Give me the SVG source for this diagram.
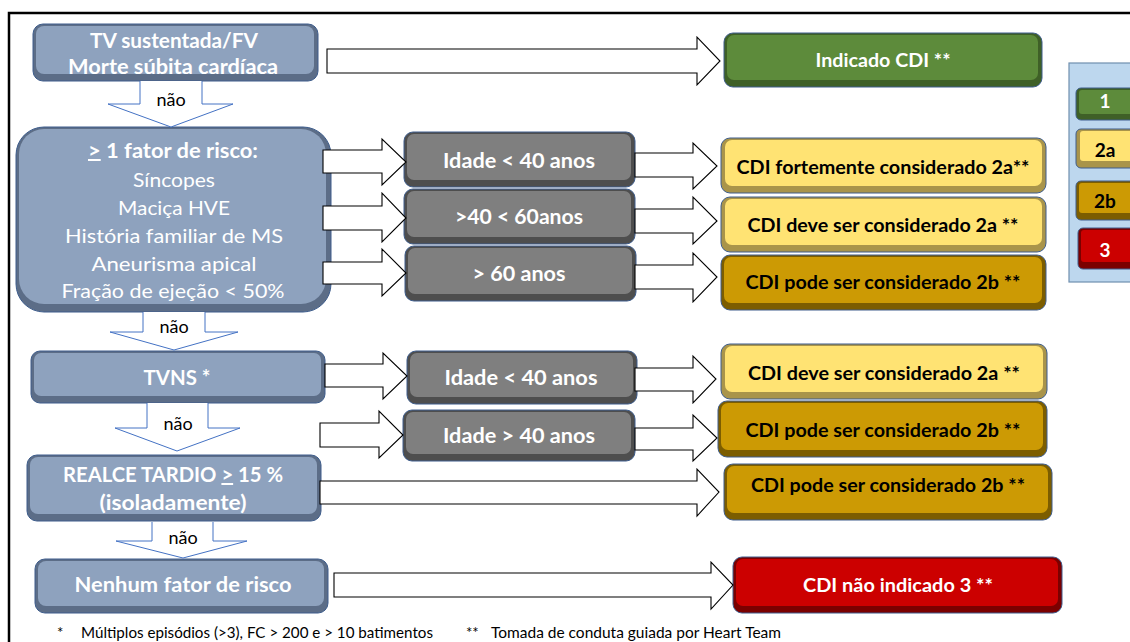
<svg xmlns="http://www.w3.org/2000/svg" width="1130" height="642" viewBox="0 0 1130 642">
<style>
.rim{stroke:#3E5D8C;stroke-width:1}
.rb{fill:#5C6D87}.fb{fill:#8EA2BE}
.rg{fill:#4E4E4E}.fg{fill:#7F7F7F}
.rgr{fill:#3F6027}.fgr{fill:#5D8B3B}
.ry{fill:#A9944A}.fy{fill:#FFE373}
.ro{fill:#7C5D00}.fo{fill:#CC9A04}
.rr{fill:#7B0000}.fr{fill:#CC0000}
text{font-family:Lato,"Open Sans","Liberation Sans",sans-serif;text-anchor:middle}
.bw{font-weight:bold;fill:#FFFFFF}
.bk{font-weight:bold;fill:#000000}
.rw{fill:#FFFFFF}
.nao{fill:#000000;font-size:18px}
.foot{fill:#000000;font-size:15px;text-anchor:start}
.ha{fill:#FFFFFF;stroke:#000000;stroke-width:1.1;stroke-linejoin:miter}
.da{fill:#FFFFFF;stroke:#4472C4;stroke-width:1}
</style>
<rect x="9" y="13" width="1140" height="640" fill="none" stroke="#000000" stroke-width="2.5"/>

<g id="legend">
<rect x="1069" y="63" width="80" height="219" fill="#BDD7EE" stroke="#6F8FAF" stroke-width="1.2"/>
<g id="leg1"><rect class="rim rgr" x="1076" y="88" width="62" height="32" rx="5"/><rect class="fgr" x="1079" y="90" width="56" height="24" rx="3"/><text class="bw" x="1105" y="108" font-size="19">1</text></g>
<g id="leg2a"><rect class="rim ry" x="1076" y="129" width="62" height="39" rx="5"/><rect class="fy" x="1080" y="131" width="54" height="30" rx="3"/><text class="bk" x="1105" y="157" font-size="19">2a</text></g>
<g id="leg2b"><rect class="rim ro" x="1076" y="181" width="62" height="39" rx="5"/><rect class="fo" x="1079" y="183" width="56" height="30" rx="3"/><text class="bk" x="1105" y="208" font-size="19">2b</text></g>
<g id="leg3"><rect class="rim rr" x="1078" y="228" width="62" height="41" rx="5"/><rect class="fr" x="1081" y="230" width="56" height="32" rx="3"/><text class="bw" x="1105" y="257" font-size="19">3</text></g>
</g>

<g id="n1"><rect class="rim rb" x="33" y="24" width="285" height="57" rx="10"/><rect class="fb" x="36" y="26" width="278" height="48" rx="8"/>
<text class="bw" x="174" y="48" font-size="20" textLength="168" lengthAdjust="spacingAndGlyphs">TV sustentada/FV</text><text class="bw" x="173" y="74" font-size="20" textLength="210" lengthAdjust="spacingAndGlyphs">Morte súbita cardíaca</text></g>

<g id="n2"><rect class="rim rb" x="16" y="127" width="315" height="185" rx="28"/><rect class="fb" x="19" y="129" width="307" height="175" rx="25"/>
<text class="bw" x="173" y="158" font-size="20" textLength="170" lengthAdjust="spacingAndGlyphs"><tspan text-decoration="underline">&gt;</tspan> 1 fator de risco:</text>
<text class="rw" x="174" y="187" font-size="20" textLength="82" lengthAdjust="spacingAndGlyphs">Síncopes</text>
<text class="rw" x="174" y="215" font-size="20" textLength="112" lengthAdjust="spacingAndGlyphs">Maciça HVE</text>
<text class="rw" x="174" y="243" font-size="20" textLength="218" lengthAdjust="spacingAndGlyphs">História familiar de MS</text>
<text class="rw" x="174" y="271" font-size="20" textLength="165" lengthAdjust="spacingAndGlyphs">Aneurisma apical</text>
<text class="rw" x="173" y="298" font-size="20" textLength="223" lengthAdjust="spacingAndGlyphs">Fração de ejeção &lt; 50%</text></g>

<g id="n3"><rect class="rim rb" x="31" y="351" width="294" height="52" rx="9"/><rect class="fb" x="34" y="353" width="287" height="43" rx="7"/>
<text class="bw" x="177" y="385" font-size="20" textLength="67" lengthAdjust="spacingAndGlyphs">TVNS *</text></g>

<g id="n4"><rect class="rim rb" x="27" y="455" width="294" height="66" rx="10"/><rect class="fb" x="30" y="457" width="287" height="57" rx="8"/>
<text class="bw" x="173" y="482" font-size="20" textLength="220" lengthAdjust="spacingAndGlyphs">REALCE TARDIO <tspan text-decoration="underline">&gt;</tspan> 15 %</text><text class="bw" x="173" y="510" font-size="20" textLength="147" lengthAdjust="spacingAndGlyphs">(isoladamente)</text></g>

<g id="n5"><rect class="rim rb" x="35" y="559" width="293" height="54" rx="10"/><rect class="fb" x="38" y="561" width="286" height="45" rx="8"/>
<text class="bw" x="183" y="592" font-size="20" textLength="217" lengthAdjust="spacingAndGlyphs">Nenhum fator de risco</text></g>

<g id="a1"><rect class="rim rg" x="404" y="132" width="231" height="55" rx="9"/><rect class="fg" x="407" y="134" width="224" height="46" rx="7"/><text class="bw" x="519" y="168" font-size="20" textLength="152" lengthAdjust="spacingAndGlyphs">Idade &lt; 40 anos</text></g>
<g id="a2"><rect class="rim rg" x="404" y="189" width="231" height="55" rx="9"/><rect class="fg" x="407" y="191" width="224" height="46" rx="7"/><text class="bw" x="519" y="224" font-size="20" textLength="128" lengthAdjust="spacingAndGlyphs">&gt;40 &lt; 60anos</text></g>
<g id="a3"><rect class="rim rg" x="405" y="246" width="231" height="55" rx="9"/><rect class="fg" x="408" y="248" width="224" height="46" rx="7"/><text class="bw" x="519" y="281" font-size="20" textLength="93" lengthAdjust="spacingAndGlyphs">&gt; 60 anos</text></g>
<g id="a4"><rect class="rim rg" x="407" y="351" width="230" height="53" rx="9"/><rect class="fg" x="410" y="353" width="223" height="44" rx="7"/><text class="bw" x="521" y="385" font-size="20" textLength="153" lengthAdjust="spacingAndGlyphs">Idade &lt; 40 anos</text></g>
<g id="a5"><rect class="rim rg" x="403" y="410" width="232" height="51" rx="9"/><rect class="fg" x="406" y="412" width="225" height="42" rx="7"/><text class="bw" x="519" y="443" font-size="20" textLength="152" lengthAdjust="spacingAndGlyphs">Idade &gt; 40 anos</text></g>

<g id="g1"><rect class="rim rgr" x="724" y="33" width="318" height="54" rx="9"/><rect class="fgr" x="727" y="35" width="311" height="45" rx="7"/><text class="bw" x="883" y="67" font-size="18" textLength="135" lengthAdjust="spacingAndGlyphs">Indicado CDI **</text></g>
<g id="y1"><rect class="rim ry" x="721" y="138" width="325" height="55" rx="9"/><rect class="fy" x="725" y="140" width="317" height="46" rx="7"/><text class="bk" x="883" y="174" font-size="18" textLength="293" lengthAdjust="spacingAndGlyphs">CDI fortemente considerado 2a**</text></g>
<g id="y2"><rect class="rim ry" x="721" y="197" width="325" height="55" rx="9"/><rect class="fy" x="725" y="199" width="317" height="46" rx="7"/><text class="bk" x="883" y="232" font-size="18" textLength="271" lengthAdjust="spacingAndGlyphs">CDI deve ser considerado 2a **</text></g>
<g id="y3"><rect class="rim ro" x="721" y="255" width="325" height="55" rx="9"/><rect class="fo" x="724" y="257" width="318" height="46" rx="7"/><text class="bk" x="883" y="289" font-size="18" textLength="275" lengthAdjust="spacingAndGlyphs">CDI pode ser considerado 2b **</text></g>
<g id="y4"><rect class="rim ry" x="721" y="344" width="326" height="55" rx="9"/><rect class="fy" x="725" y="346" width="318" height="46" rx="7"/><text class="bk" x="884" y="380" font-size="18" textLength="272" lengthAdjust="spacingAndGlyphs">CDI deve ser considerado 2a **</text></g>
<g id="y5"><rect class="rim ro" x="718" y="401" width="329" height="56" rx="9"/><rect class="fo" x="721" y="403" width="322" height="47" rx="7"/><text class="bk" x="883" y="437" font-size="18" textLength="275" lengthAdjust="spacingAndGlyphs">CDI pode ser considerado 2b **</text></g>
<g id="y6"><rect class="rim ro" x="724" y="464" width="328" height="56" rx="9"/><rect class="fo" x="727" y="466" width="321" height="47" rx="7"/><text class="bk" x="888" y="492" font-size="18" textLength="274" lengthAdjust="spacingAndGlyphs">CDI pode ser considerado 2b **</text></g>
<g id="r1"><rect class="rim rr" x="733" y="557" width="329" height="56" rx="9"/><rect class="fr" x="736" y="559" width="322" height="47" rx="7"/><text class="bw" x="898" y="592" font-size="18" textLength="190" lengthAdjust="spacingAndGlyphs">CDI não indicado 3 **</text></g>

<g id="connectors">
<path class="ha" d="M327 49H697V37L720 61L697 85V73H327Z"/>
<path class="ha" d="M323 150H382V139L406 162L382 185V173H323Z"/>
<path class="ha" d="M323 206H382V193L406 218L382 242V230H323Z"/>
<path class="ha" d="M323 262H382V249L406 273L382 296V284H323Z"/>
<path class="ha" d="M635 153H693V143L717 166L693 189V177H635Z"/>
<path class="ha" d="M635 209H693V197L717 221L693 244V233H635Z"/>
<path class="ha" d="M635 265H693V253L717 277L693 302V289H635Z"/>
<path class="ha" d="M325 364H383V353L407 376L383 399V387H325Z"/>
<path class="ha" d="M320 423H379V411L403 435L379 458V447H320Z"/>
<path class="ha" d="M635 368H693V356L716 379L693 403V391H635Z"/>
<path class="ha" d="M635 428H693V415L717 438L693 461V450H635Z"/>
<path class="ha" d="M320 481H697V469L719 492L697 516V504H320Z"/>
<path class="ha" d="M334 573H711V562L733 585L711 609V597H334Z"/>
<path class="da" d="M140 81V104H108L171 127L233 104H202V81"/>
<path class="da" d="M143 312V332H110L174 350L238 332H205V312"/>
<path class="da" d="M147 403V428H115L177 451L240 428H208V403"/>
<path class="da" d="M152 522V541H116L183 558L247 541H213V522"/>
<text class="nao" x="171" y="106">não</text>
<text class="nao" x="174" y="333">não</text>
<text class="nao" x="178" y="430">não</text>
<text class="nao" x="183" y="544">não</text>
</g>

<g id="footnotes">
<text class="foot" x="57" y="638">*</text>
<text class="foot" x="81" y="638" textLength="352" lengthAdjust="spacingAndGlyphs">Múltiplos episódios (&gt;3), FC &gt; 200 e &gt; 10 batimentos</text>
<text class="foot" x="466" y="638">**</text>
<text class="foot" x="491" y="638" textLength="290" lengthAdjust="spacingAndGlyphs">Tomada de conduta guiada por Heart Team</text>
</g>
</svg>
